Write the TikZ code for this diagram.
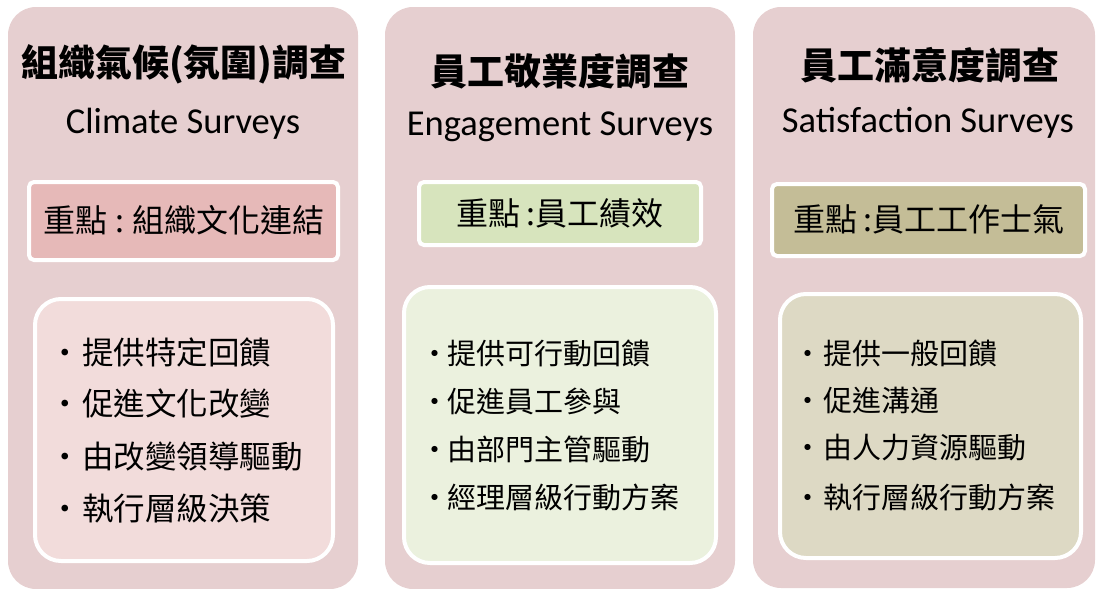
\documentclass[tikz,border=0pt]{standalone}
\usepackage{fontspec}
\newfontfamily\cjk{Noto Sans CJK TC}
\newfontfamily\eng{Carlito}
\newcommand\fsz[1]{\fontsize{#1pt}{#1pt}\selectfont}
\newcommand\bul[1]{\makebox[#1][l]{\makebox[0pt]{·}}}
\definecolor{outerpink}{HTML}{E6CFD0}
\definecolor{keyA}{HTML}{E6B9B8}
\definecolor{listA}{HTML}{F2DCDB}
\definecolor{keyB}{HTML}{D7E4BD}
\definecolor{listB}{HTML}{EBF1DE}
\definecolor{keyC}{HTML}{C4BD97}
\definecolor{listC}{HTML}{DDD9C4}
\tikzset{
  panel/.style={fill=outerpink, rounded corners=28pt},
  keybox/.style={draw=white, line width=4pt, rounded corners=5pt},
  listbox/.style={draw=white, line width=4pt, rounded corners=26pt},
  titletxt/.style={inner sep=0pt, font=\cjk\bfseries\fsz{37}},
  engl/.style={inner sep=0pt, font=\eng\fsz{36.5}},
  keytxt/.style={inner sep=0pt, font=\cjk\fsz{32}},
  itemA/.style={inner sep=0pt, anchor=west, font=\cjk\fsz{31.5}},
  itemB/.style={inner sep=0pt, anchor=west, font=\cjk\fsz{29}},
}
\begin{document}
\begin{tikzpicture}[x=1pt,y=-1pt]
\useasboundingbox (0,0) rectangle (1096,589);
% panels
\path[panel] (8,7) rectangle (358,589);
\path[panel] (385,7) rectangle (735,589);
\path[panel] (753,7) rectangle (1095,588);
% key boxes
\path[keybox, fill=keyA] (29,182) rectangle (338,260);
\path[keybox, fill=keyB] (419,182) rectangle (701,245);
\path[keybox, fill=keyC] (772,184) rectangle (1085,256);
% list boxes
\path[listbox, fill=listA] (35,299) rectangle (333,561);
\path[listbox, fill=listB] (404,287) rectangle (716,563);
\path[listbox, fill=listC] (780,294) rectangle (1081,558);
% titles
\node[titletxt] (t1) at (184,64) {組織氣候(氛圍)調查};
\node[titletxt] (t2) at (560,71) {員工敬業度調查};
\node[titletxt] (t3) at (930,65) {員工滿意度調查};
\node[engl] (e1) at (183,124) {Climate Surveys};
\node[engl] (e2) at (560,127) {Engagement Surveys};
\node[engl] (e3) at (928,123) {Satisfaction Surveys};
% key texts
\node[keytxt] (k1) at (184,220) {重點\hspace{8pt}:\hspace{8pt}組織文化連結};
\node[keytxt] (k2) at (560,213) {重點\hspace{6pt}:員工績效};
\node[keytxt] (k3) at (929,219) {重點\hspace{6pt}:員工工作士氣};
% lists column 1
\node[itemA] (a1) at (65,352) {\bul{17pt}提供特定回饋};
\node[itemA] (a2) at (65,404) {\bul{17pt}促進文化改變};
\node[itemA] (a3) at (65,456) {\bul{17pt}由改變領導驅動};
\node[itemA] (a4) at (65,508) {\bul{17pt}執行層級決策};
% lists column 2
\node[itemB] (b1) at (435,353) {\bul{12pt}提供可行動回饋};
\node[itemB] (b2) at (435,401) {\bul{12pt}促進員工參與};
\node[itemB] (b3) at (435,449) {\bul{12pt}由部門主管驅動};
\node[itemB] (b4) at (435,497) {\bul{12pt}經理層級行動方案};
% lists column 3
\node[itemB] (c1) at (808,353) {\bul{15pt}提供一般回饋};
\node[itemB] (c2) at (808,400) {\bul{15pt}促進溝通};
\node[itemB] (c3) at (808,448) {\bul{15pt}由人力資源驅動};
\node[itemB] (c4) at (808,497) {\bul{15pt}執行層級行動方案};
\end{tikzpicture}
\end{document}
